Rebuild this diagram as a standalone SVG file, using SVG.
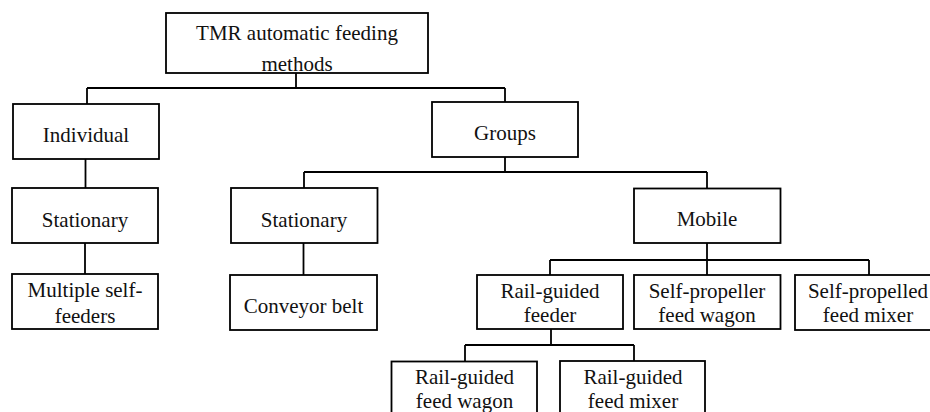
<svg xmlns="http://www.w3.org/2000/svg" width="930" height="412" viewBox="0 0 930 412">
<style>
rect{fill:#fff;stroke:#000;stroke-width:1.8}
text{font-size:21px;fill:#111;text-anchor:middle}
.c{fill:none;stroke:#000;stroke-width:1.8}
</style>
<rect x="0" y="0" width="930" height="412" style="stroke:none"/>
<g id="connectors" class="c">
<path d="M296,73V88M87,88H505M87,88V104M505,88V102"/>
<path d="M85.5,159V188"/>
<path d="M85,243V274"/>
<path d="M505,157V172M304,172H707M304,172V188M707,172V188.5"/>
<path d="M303.5,243V275"/>
<path d="M707,243V260M550,260H869M550,260V275M707,260V275M869,260V275"/>
<path d="M551,329V345M465,345H634M465,345V361.5M634,345V361"/>
</g>
<g font-family="Liberation Serif, serif">
<g id="root"><rect x="166" y="13" width="262" height="60"/><text x="297" y="40">TMR automatic feeding</text><text x="297" y="71">methods</text></g>
<g id="individual"><rect x="13" y="104" width="146" height="55"/><text x="86" y="141.5">Individual</text></g>
<g id="groups"><rect x="432" y="102" width="146" height="55"/><text x="505" y="140">Groups</text></g>
<g id="stationary1"><rect x="12" y="188" width="146" height="55"/><text x="85" y="227">Stationary</text></g>
<g id="stationary2"><rect x="231" y="188" width="146.5" height="55"/><text x="304" y="227">Stationary</text></g>
<g id="mobile"><rect x="634" y="188.5" width="146.5" height="54.5"/><text x="707" y="226">Mobile</text></g>
<g id="multiple"><rect x="12" y="274" width="146" height="55"/><text x="85" y="296.5">Multiple self-</text><text x="85" y="322.5">feeders</text></g>
<g id="conveyor"><rect x="230" y="275" width="147" height="55"/><text x="303.5" y="313">Conveyor belt</text></g>
<g id="railfeeder"><rect x="477" y="275" width="146" height="54"/><text x="550" y="298">Rail-guided</text><text x="550" y="322">feeder</text></g>
<g id="selfwagon"><rect x="634" y="275" width="146.5" height="54"/><text x="707" y="298">Self-propeller</text><text x="707" y="322">feed wagon</text></g>
<g id="selfmixer"><rect x="795" y="275" width="148" height="55"/><text x="868" y="298">Self-propelled</text><text x="868" y="322">feed mixer</text></g>
<g id="railwagon"><rect x="391.5" y="361.5" width="145.5" height="60"/><text x="464.5" y="383.5">Rail-guided</text><text x="464.5" y="407.5">feed wagon</text></g>
<g id="railmixer"><rect x="560" y="361" width="145" height="60"/><text x="633" y="383.5">Rail-guided</text><text x="633" y="407.5">feed mixer</text></g>
</g>
</svg>
